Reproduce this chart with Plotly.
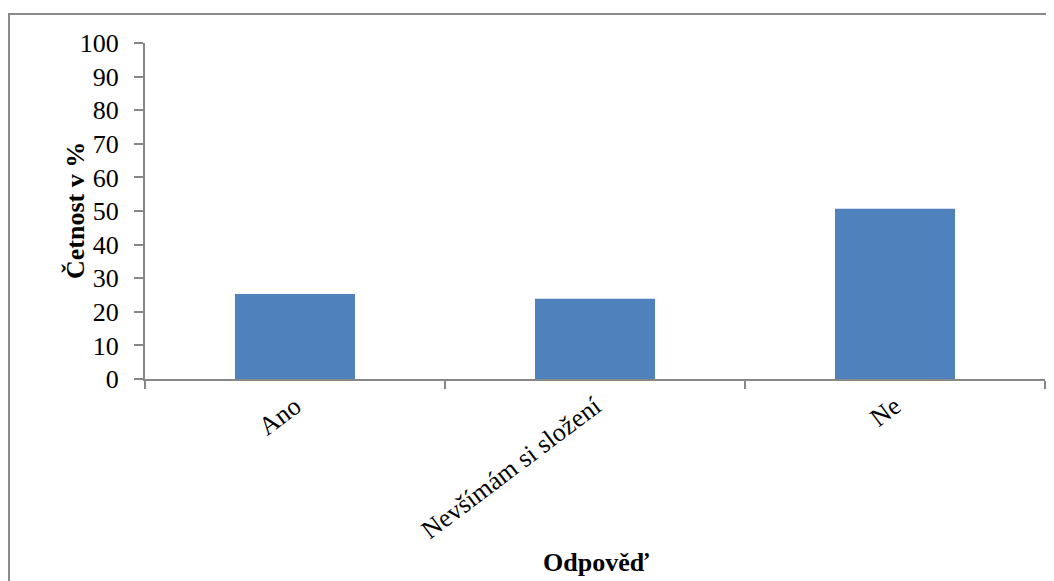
import plotly.graph_objects as go

categories = ["Ano", "Nevšímám si složení", "Ne"]
values = [25.3, 23.9, 50.7]
y_ticks = list(range(0, 101, 10))

# page body has an 8px margin, so figure coords = screen coords - 8
OFF = 8
W, H = 1054 - OFF, 581 - OFF
L, R, T, B = 145 - OFF, 9, 43 - OFF, 581 - 379
pw, ph = W - L - R, H - T - B

def px(x):
    return (x - OFF - L) / pw

def py(y):
    return (H - B - (y - OFF)) / ph

font_family = "Liberation Serif, Times New Roman, serif"
axis_color = "#878787"

fig = go.Figure(
    go.Bar(x=categories, y=values, marker=dict(color="#4F81BD", line=dict(width=0)), width=0.4)
)

fig.update_layout(
    width=W, height=H,
    margin=dict(l=L, r=R, t=T, b=B, autoexpand=False),
    paper_bgcolor="white", plot_bgcolor="white",
    font=dict(family=font_family, size=24, color="black"),
    showlegend=False,
    bargap=0.6,
)

fig.update_xaxes(
    type="category",
    tickson="boundaries",
    ticks="outside", ticklen=8, tickwidth=2, tickcolor=axis_color,
    showline=True, linecolor=axis_color, linewidth=2,
    showgrid=False, zeroline=False,
    tickangle=-37,
    tickfont=dict(family=font_family, size=26, color="black"),
)
fig.update_yaxes(
    range=[0, 100],
    tickvals=y_ticks,
    ticks="outside", ticklen=9, tickwidth=2, tickcolor=axis_color,
    showline=True, linecolor=axis_color, linewidth=2,
    showgrid=False, zeroline=False,
    ticklabelstandoff=10,
    tickfont=dict(family=font_family, size=26, color="black"),
)

# axis titles
fig.add_annotation(
    text="<b>Četnost v %</b>", xref="paper", yref="paper",
    x=px(75), y=py(211), showarrow=False, textangle=-90,
    font=dict(family=font_family, size=26, color="black"),
    xanchor="center", yanchor="middle",
)
fig.add_annotation(
    text="<b>Odpověď</b>", xref="paper", yref="paper",
    x=px(596), y=py(562), showarrow=False,
    font=dict(family=font_family, size=26, color="black"),
    xanchor="center", yanchor="middle",
)

# outer chart frame
fig.add_shape(
    type="rect", xref="paper", yref="paper",
    x0=px(9), y0=py(600), x1=px(1070), y1=py(14),
    line=dict(color="#8a8a8a", width=2), fillcolor="rgba(0,0,0,0)", layer="below",
)

fig.write_html("out.html")
